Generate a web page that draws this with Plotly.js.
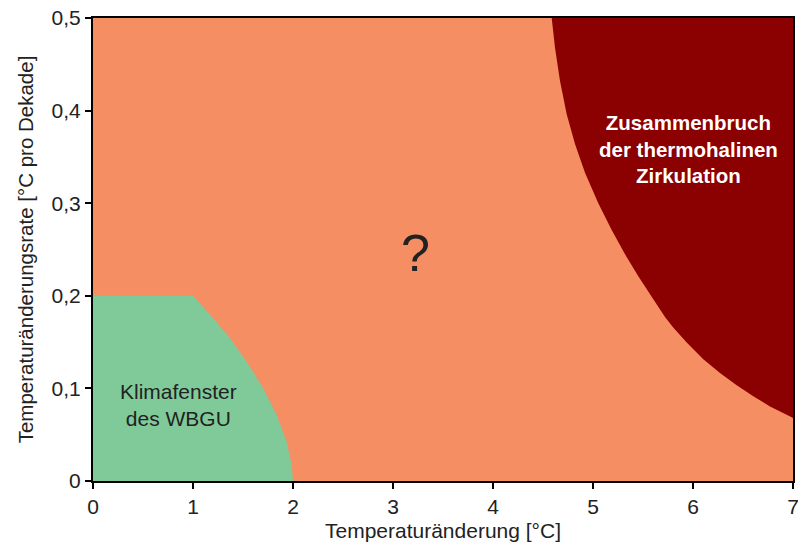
<!DOCTYPE html>
<html>
<head>
<meta charset="utf-8">
<script src="https://cdn.plot.ly/plotly-3.0.1.min.js"></script>
<style>html,body{margin:0;padding:0;background:#fff;}#chart{width:798px;height:547px;}</style>
</head>
<body>
<div id="chart"></div>
<script>
// Boundary of the "Klimafenster des WBGU" region
const greenX = [0, 0, 1.0, 1.10, 1.203, 1.37, 1.537, 1.703, 1.837, 1.937, 1.987, 2.0, 0];
const greenY = [0, 0.2, 0.2, 0.1885, 0.1757, 0.1541, 0.1288, 0.1001, 0.0713, 0.0424, 0.0173, 0, 0];

// Boundary of the "Zusammenbruch der thermohalinen Zirkulation" region
const redX = [4.587, 7, 7, 6.977, 6.77, 6.603, 6.437, 6.27, 6.103, 5.937, 5.80, 5.72, 5.587, 5.453, 5.32, 5.187, 5.053, 4.92, 4.82, 4.737, 4.67, 4.62, 4.587];
const redY = [0.5, 0.5, 0.068, 0.0695, 0.0805, 0.0915, 0.1035, 0.1165, 0.1315, 0.1495, 0.166, 0.177, 0.199, 0.221, 0.245, 0.271, 0.300, 0.333, 0.364, 0.396, 0.432, 0.468, 0.5];

const xTickVals = [0, 1, 2, 3, 4, 5, 6, 7];
const xTickText = ["0", "1", "2", "3", "4", "5", "6", "7"];
const yTickVals = [0, 0.1, 0.2, 0.3, 0.4, 0.5];
const yTickText = ["0", "0,1", "0,2", "0,3", "0,4", "0,5"];

const labels = [
  {x: 0.85, y: 0.082, text: "Klimafenster<br>des WBGU", color: "#222222", size: 21, bold: false},
  {x: 3.22, y: 0.246, text: "?", color: "#222222", size: 52, bold: false},
  {x: 5.95, y: 0.358, text: "Zusammenbruch<br>der thermohalinen<br>Zirkulation", color: "#ffffff", size: 20.5, bold: true}
];

const font = "Liberation Sans, Arial, sans-serif";

const traces = [
  {x: greenX, y: greenY, type: "scatter", mode: "lines", fill: "toself",
   fillcolor: "#80CA9A", line: {width: 0, color: "#80CA9A"}, hoverinfo: "skip", showlegend: false},
  {x: redX, y: redY, type: "scatter", mode: "lines", fill: "toself",
   fillcolor: "#8B0000", line: {width: 0, color: "#8B0000"}, hoverinfo: "skip", showlegend: false}
];

const layout = {
  width: 798, height: 547,
  margin: {l: 93, r: 5, t: 18, b: 66},
  paper_bgcolor: "#ffffff",
  plot_bgcolor: "#F58E63",
  font: {family: font, size: 21, color: "#222222"},
  showlegend: false,
  xaxis: {
    range: [0, 7], tickvals: xTickVals, ticktext: xTickText,
    showgrid: false, zeroline: false, showline: true, mirror: true,
    linecolor: "#000000", linewidth: 2, ticks: "outside", ticklen: 6, tickwidth: 2, tickcolor: "#000000",
    ticklabeloverflow: "allow", automargin: false,
    tickfont: {family: font, size: 21, color: "#222222"},
    title: {text: "Temperaturänderung [°C]", font: {family: font, size: 21, color: "#222222"}, standoff: 6}
  },
  yaxis: {
    range: [0, 0.5], tickvals: yTickVals, ticktext: yTickText,
    showgrid: false, zeroline: false, showline: true, mirror: true,
    linecolor: "#000000", linewidth: 2, ticks: "outside", ticklen: 6, tickwidth: 2, tickcolor: "#000000",
    ticklabeloverflow: "allow", automargin: false,
    tickfont: {family: font, size: 21, color: "#222222"},
    title: {text: "Temperaturänderungsrate [°C pro Dekade]", font: {family: font, size: 20.5, color: "#222222"}, standoff: 12}
  },
  annotations: labels.map(l => ({
    x: l.x, y: l.y, xref: "x", yref: "y", showarrow: false,
    text: l.bold ? "<b>" + l.text + "</b>" : l.text,
    font: {family: font, size: l.size, color: l.color},
    align: "center"
  }))
};

Plotly.newPlot("chart", traces, layout, {displayModeBar: false, staticPlot: true});
</script>
</body>
</html>
